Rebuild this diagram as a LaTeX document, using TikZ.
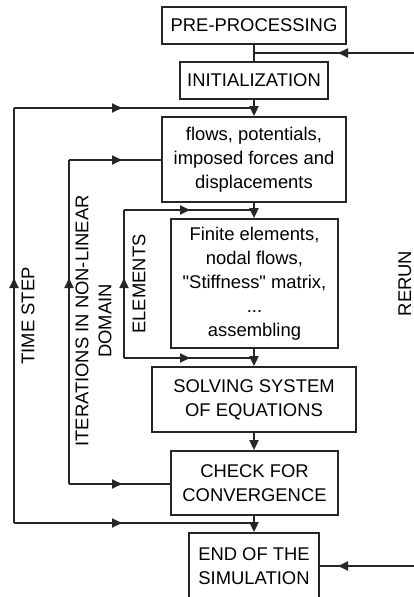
\documentclass[tikz,border=0pt]{standalone}
\usepackage{fontspec}
\setmainfont{Liberation Sans}[Ligatures=TeXOff]
\usetikzlibrary{arrows.meta,decorations.markings}
\tikzset{
  box/.style={draw=black!85, line width=1.8pt, inner sep=0pt, align=center,
    font=\fontsize{18.4}{24}\selectfont},
  conn/.style={draw=black!85, line width=1.8pt},
  tipend/.style={conn, -{Triangle[length=10pt,width=9pt]}},
  midarr/.style={conn, postaction={decorate},
    decoration={markings, mark=at position #1 with {\arrow{Triangle[length=10pt,width=9pt]}}}},
  lbl/.style={rotate=90, align=center, inner sep=0pt, font=\fontsize{18.4}{23}\selectfont}
}
\begin{document}
\begin{tikzpicture}[x=1pt,y=-1pt]
\useasboundingbox (0,0) rectangle (414,597);
\clip (0,0) rectangle (414,597);
\fill[white] (0,0) rectangle (414,597);
% boxes
\node[box, minimum width=184pt, minimum height=37pt] (pre) at (254,25.5) {PRE-PROCESSING};
\node[box, minimum width=148pt, minimum height=37pt] (init) at (254,80.5) {INITIALIZATION};
\node[box, minimum width=184pt, minimum height=85pt] (flows) at (254,159.5) {flows, potentials,\\imposed forces and\\displacements};
\node[box, minimum width=167pt, minimum height=129pt] (fe) at (254.5,283.5) {Finite elements,\\nodal flows,\\"Stiffness" matrix,\\...\\assembling};
\node[box, minimum width=204pt, minimum height=65pt] (solve) at (254,399.5) {SOLVING SYSTEM\\OF EQUATIONS};
\node[box, minimum width=167pt, minimum height=64pt] (check) at (254.5,483) {CHECK FOR\\CONVERGENCE};
\node[box, minimum width=130pt, minimum height=66pt] (end) at (254,566) {END OF THE\\SIMULATION};
% junctions
\coordinate (j1) at (254,53);
\coordinate (j2) at (254,108);
\coordinate (j3) at (254,210);
\coordinate (j4) at (254,358);
\coordinate (j5) at (254,523);
\coordinate (rr1) at (414,53);
\coordinate (rr2) at (414,566);
\coordinate (tsb) at (14,523);
\coordinate (tst) at (14,108);
\coordinate (itb) at (69,484);
\coordinate (itt) at (69,160);
\coordinate (elb) at (124,358);
\coordinate (elt) at (124,210);
% main flow
\draw[conn] (pre.south) -- (init.north);
\draw[tipend] (init.south) -- (flows.north);
\draw[tipend] (flows.south) -- (fe.north -| flows.south);
\draw[tipend] (fe.south -| flows.south) -- (solve.north);
\draw[tipend] (solve.south) -- (check.north -| solve.south);
\draw[tipend] (check.south -| solve.south) -- (end.north);
% time step loop
\draw[midarr=108pt] (tsb) -- (j5);
\draw[midarr=245pt] (tsb) -- (tst);
\draw[midarr=108pt] (tst) -- (j2);
% iterations loop
\draw[midarr=53pt] (itb) -- (check.west |- itb);
\draw[midarr=206pt] (itb) -- (itt);
\draw[midarr=53pt] (itt) -- (flows.west |- itt);
% elements loop
\draw[midarr=66pt] (elb) -- (j4);
\draw[midarr=80pt] (elb) -- (elt);
\draw[midarr=66pt] (elt) -- (j3);
% rerun
\draw[midarr=76pt] (rr1) -- (j1);
\draw[midarr=76pt] (rr2) -- (end.east |- rr2);
% labels
\node[lbl] (lts) at (28,316) {TIME STEP};
\node[lbl] (lit) at (93.5,321) {ITERATIONS IN NON-LINEAR\\DOMAIN};
\node[lbl] (lel) at (139,284) {ELEMENTS};
\node[lbl] (lrr) at (405,283.5) {RERUN};
\end{tikzpicture}
\end{document}
